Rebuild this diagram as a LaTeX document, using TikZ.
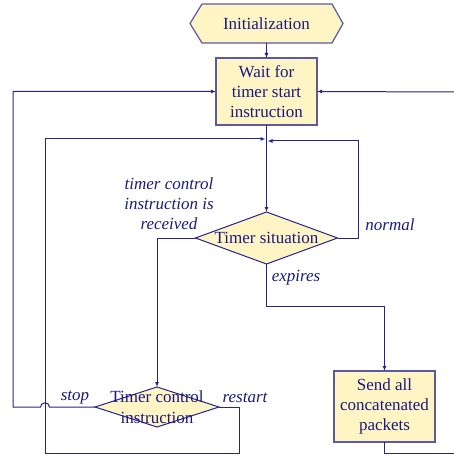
\documentclass[tikz,border=0pt]{standalone}
\usepackage{fontspec}
\setmainfont{Liberation Serif}
\newfontfamily\chartfont{Liberation Serif}
\usetikzlibrary{shapes.geometric,arrows.meta}
\definecolor{ink}{HTML}{1A1A80}
\definecolor{wire}{HTML}{24248C}
\definecolor{edgeline}{HTML}{5A5AA0}
\definecolor{pale}{HTML}{FFF4C4}
\begin{document}
\begin{tikzpicture}[x=1pt,y=-1pt,
  every node/.style={text=ink, font=\chartfont\fontsize{17}{20}\selectfont},
  proc/.style={rectangle, draw=edgeline, fill=pale, line width=1.2pt, align=center,
    inner sep=0pt, outer sep=0pt, minimum width=101pt},
  choice/.style={diamond, draw=wire, fill=pale, line width=1pt, inner sep=0pt, outer sep=0pt},
  cond/.style={font=\chartfont\itshape\fontsize{17}{20}\selectfont, inner sep=0pt, align=center},
  flow/.style={draw=wire, line width=1pt},
  tip/.style={-{Latex[length=5pt,width=4pt]}}
]
\useasboundingbox (0,0) rectangle (454,457);

% start terminal (hexagon) and its label
\draw[draw=edgeline, fill=pale, line width=1.2pt]
  (190,23.5) -- (202,4) -- (332,4) -- (343,23.5) -- (332,43) -- (202,43) -- cycle;
\node[minimum width=153pt, minimum height=39pt, inner sep=0pt, outer sep=0pt] (init) at (266.5,23.5) {Initialization};

% process boxes
\node[proc, minimum height=67pt] (wait) at (266.5,91.5) {Wait for\\timer start\\instruction};
\node[proc, minimum height=71pt] (send) at (384.5,406.5) {Send all\\concatenated\\packets};

% decisions
\node[choice, minimum width=142pt, minimum height=52pt] (ts) at (266.5,238) {};
\node (tstext) at (ts) {Timer situation};
\node[choice, minimum width=124pt, minimum height=40pt] (tc) at (157,407) {};
\node[align=center, font=\chartfont\fontsize{17}{21}\selectfont] (tctext) at (tc) {Timer control\\instruction};

% junction points on the main vertical line and off-picture ends
\coordinate (joinL) at (265.5,139);
\coordinate (joinR) at (267.5,141);
\coordinate (inR) at (454,92);
\coordinate (outR) at (454,453);

% connectors
\draw[flow,tip] (init) -- (wait);
\draw[flow,tip] (wait.south) -- (ts.north);
\draw[flow,tip] (ts.west) -| (tc.north);
\draw[flow,tip] (ts.east) -- (358,238) -- (358,141) -- (joinR);
\draw[flow,tip] (ts.south) -- (266.5,306) -| (send.north);
\draw[flow] (send.south) -- (384.5,453) -- (outR);
\draw[flow,tip] (inR) -- (wait.east);
\draw[flow,tip] (tc.east) -- (239,407) -- (239,453) -- (45,453) -- (45,139) -- (joinL);
\draw[flow,tip] (tc.west) -- (49.5,407) .. controls (49.5,401.5) and (40.5,401.5) .. (40.5,407)
  -- (13,407) -- (13,91.5) -- (wait.west);

% branch labels
\node[cond] (lblrecv) at (169,204) {timer control\\instruction is\\received};
\node[cond] (lblnorm) at (390,225) {normal};
\node[cond] (lblexp) at (296,278) {expires};
\node[cond] (lblstop) at (75,398) {stop};
\node[cond] (lblrest) at (245,398) {restart};
\end{tikzpicture}
\end{document}
